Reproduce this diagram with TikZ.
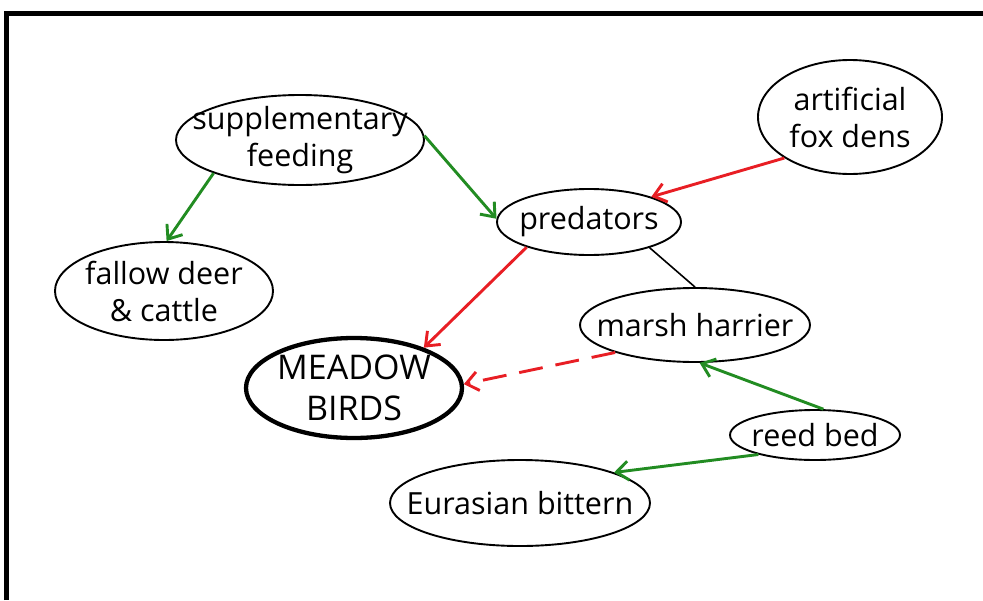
\documentclass[tikz,border=0pt]{standalone}
\usepackage{fontspec}
\setmainfont{Open Sans}
\usetikzlibrary{shapes.geometric,arrows.meta}
\definecolor{arrgreen}{RGB}{34,140,34}
\definecolor{arrred}{RGB}{232,30,36}
\tikzset{
  oval/.style={ellipse, draw=black, line width=1.9pt, inner sep=-40pt, align=center,
    font=\fontsize{30.5pt}{37pt}\selectfont},
  mainoval/.style={oval, line width=4.3pt, font=\fontsize{34pt}{41pt}\selectfont},
  linkarrow/.style={line width=2.9pt, -{Straight Barb[length=12pt,width=19pt,line width=2.9pt]}},
  posarrow/.style={linkarrow, draw=arrgreen},
  negarrow/.style={linkarrow, draw=arrred},
}
\begin{document}
\begin{tikzpicture}[x=1pt,y=-1pt]
\useasboundingbox (0,0) rectangle (983,600);
\draw[line width=5pt] (6.5,600) -- (6.5,13.5) -- (983,13.5);

\node[oval, minimum width=248pt, minimum height=90pt] (sf) at (300,140) {supplementary\\feeding};
\node[oval, minimum width=184pt, minimum height=114pt] (fox) at (850,117) {artificial\\fox dens};
\node[oval, minimum width=184pt, minimum height=66pt] (pred) at (589,222) {predators};
\node[oval, minimum width=218pt, minimum height=98pt] (fd) at (164,291) {fallow deer\\\& cattle};
\node[oval, minimum width=230pt, minimum height=74pt] (mh) at (695,325) {marsh harrier};
\node[mainoval, minimum width=216pt, minimum height=100pt] (mb) at (354,388) {MEADOW\\BIRDS};
\node[oval, minimum width=170pt, minimum height=50pt] (rb) at (815,435) {reed bed};
\node[oval, minimum width=260pt, minimum height=86pt] (eb) at (520,503) {Eurasian bittern};

\draw[posarrow] (sf.201) -- (fd.87);
\draw[posarrow] (sf.2) -- (pred.178);
\draw[negarrow] (fox.212) -- (pred.22);
\draw[negarrow] (pred.202) -- (mb.30);
\draw[negarrow, dash pattern=on 24pt off 13pt] (mh.199) -- (mb.2);
\draw[line width=1.6pt] (pred.337) -- (mh.90);
\draw[posarrow] (rb.72) -- (mh.277);
\draw[posarrow] (rb.199) -- (eb.18);
\end{tikzpicture}
\end{document}
